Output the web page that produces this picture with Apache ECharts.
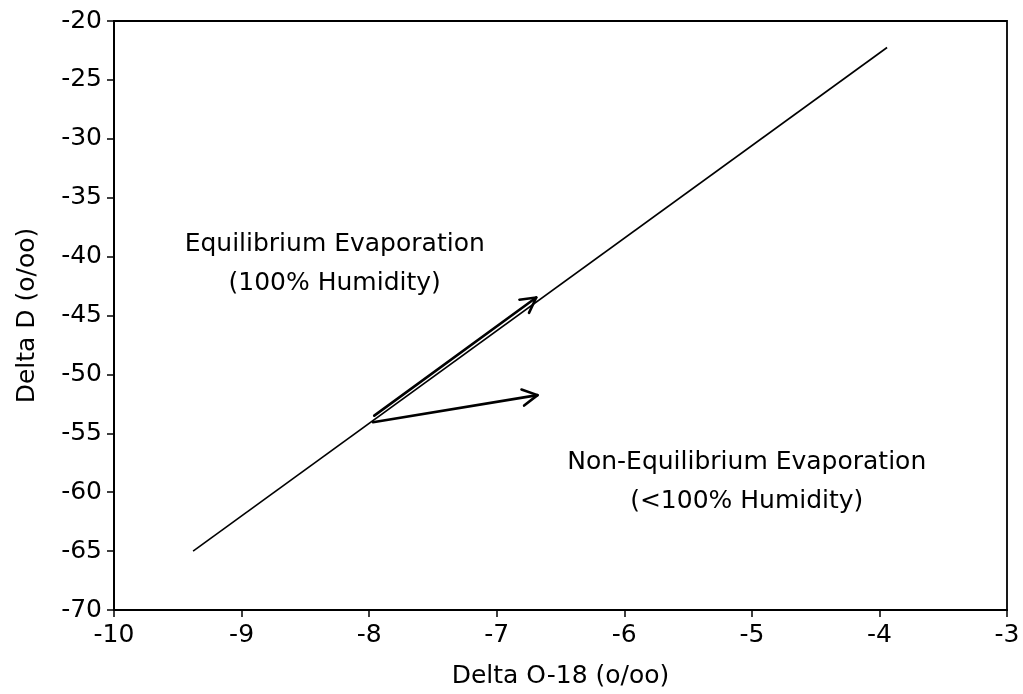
<!DOCTYPE html>
<html>
<head>
<meta charset="utf-8">
<title>Delta D vs Delta O-18</title>
<script src="https://cdn.jsdelivr.net/npm/echarts@6/dist/echarts.min.js"></script>
<style>
  html, body { margin: 0; padding: 0; background: #fff; }
  #chart { width: 1023px; height: 694px; }
</style>
</head>
<body>
<div id="chart"></div>
<script>
// Axis ranges and ticks
const xTicks = [-10, -9, -8, -7, -6, -5, -4, -3];
const yTicks = [-70, -65, -60, -55, -50, -45, -40, -35, -30, -25, -20];

// Meteoric water line endpoints [delta O-18, delta D]
const waterLine = [[-9.38, -65.0], [-3.94, -22.25]];

// Evaporation arrows: [x start, y start, x end, y end]
const equilibriumArrow = [-7.96, -53.5, -6.69, -43.47];
const nonEquilibriumArrow = [-7.97, -54.06, -6.68, -51.76];

// Text annotations
const annotationX = [-8.27, -5.04];
const annotationY = [-40.6, -59.1];
const annotationText = [
  'Equilibrium Evaporation\n(100% Humidity)',
  'Non-Equilibrium Evaporation\n(<100% Humidity)'
];

const FONT = 'DejaVu Sans';
const FONT_SIZE = 25;

const chart = echarts.init(document.getElementById('chart'), null, { renderer: 'canvas' });

// Straight shaft with an open V head, placed through the cartesian scales
function renderArrow(params, api) {
  const p1 = api.coord([api.value(0), api.value(1)]);
  const p2 = api.coord([api.value(2), api.value(3)]);
  const ang = Math.atan2(p2[1] - p1[1], p2[0] - p1[0]);
  const headLen = 17;
  const spread = 0.5;
  const b1 = [p2[0] - headLen * Math.cos(ang - spread), p2[1] - headLen * Math.sin(ang - spread)];
  const b2 = [p2[0] - headLen * Math.cos(ang + spread), p2[1] - headLen * Math.sin(ang + spread)];
  const style = { stroke: '#000', lineWidth: 2.6, fill: null, lineCap: 'round', lineJoin: 'round' };
  return {
    type: 'group',
    children: [
      { type: 'line', shape: { x1: p1[0], y1: p1[1], x2: p2[0], y2: p2[1] }, style: style },
      { type: 'polyline', shape: { points: [b1, p2, b2] }, style: style }
    ]
  };
}

const axisText = { color: '#000', fontFamily: FONT, fontSize: FONT_SIZE };

const option = {
  backgroundColor: '#fff',
  animation: false,
  grid: {
    left: 114, right: 16, top: 21, bottom: 82,
    show: true, borderColor: '#000', borderWidth: 1.8, backgroundColor: 'transparent'
  },
  xAxis: {
    type: 'value',
    min: xTicks[0], max: xTicks[xTicks.length - 1], interval: 1,
    name: 'Delta O-18 (o/oo)',
    nameLocation: 'middle', nameGap: 54,
    nameTextStyle: axisText,
    axisLine: { show: true, onZero: false, lineStyle: { color: '#000', width: 2 } },
    axisTick: { show: true, inside: false, length: 7, lineStyle: { color: '#000', width: 1.5 } },
    axisLabel: Object.assign({ margin: 13 }, axisText),
    splitLine: { show: false }
  },
  yAxis: {
    type: 'value',
    min: yTicks[0], max: yTicks[yTicks.length - 1], interval: 5,
    name: 'Delta D (o/oo)',
    nameLocation: 'middle', nameGap: 74,
    nameTextStyle: axisText,
    axisLine: { show: true, onZero: false, lineStyle: { color: '#000', width: 2 } },
    axisTick: { show: true, inside: false, length: 7, lineStyle: { color: '#000', width: 1.5 } },
    axisLabel: Object.assign({ margin: 12 }, axisText),
    splitLine: { show: false }
  },
  series: [
    {
      type: 'line',
      data: waterLine,
      showSymbol: false,
      lineStyle: { color: '#000', width: 1.6 },
      silent: true
    },
    {
      type: 'custom',
      renderItem: renderArrow,
      dimensions: ['x1', 'y1', 'x2', 'y2'],
      encode: { x: [0, 2], y: [1, 3] },
      data: [equilibriumArrow, nonEquilibriumArrow],
      silent: true
    },
    {
      type: 'scatter',
      symbolSize: 0,
      itemStyle: { opacity: 1 },
      data: annotationText.map((t, i) => ({ value: [annotationX[i], annotationY[i]], name: t })),
      label: {
        show: true,
        position: 'inside',
        formatter: p => p.name,
        color: '#000',
        opacity: 1,
        fontFamily: FONT,
        fontSize: FONT_SIZE,
        lineHeight: 39,
        align: 'center',
        verticalAlign: 'middle'
      },
      silent: true
    }
  ]
};

chart.setOption(option);
</script>
</body>
</html>
